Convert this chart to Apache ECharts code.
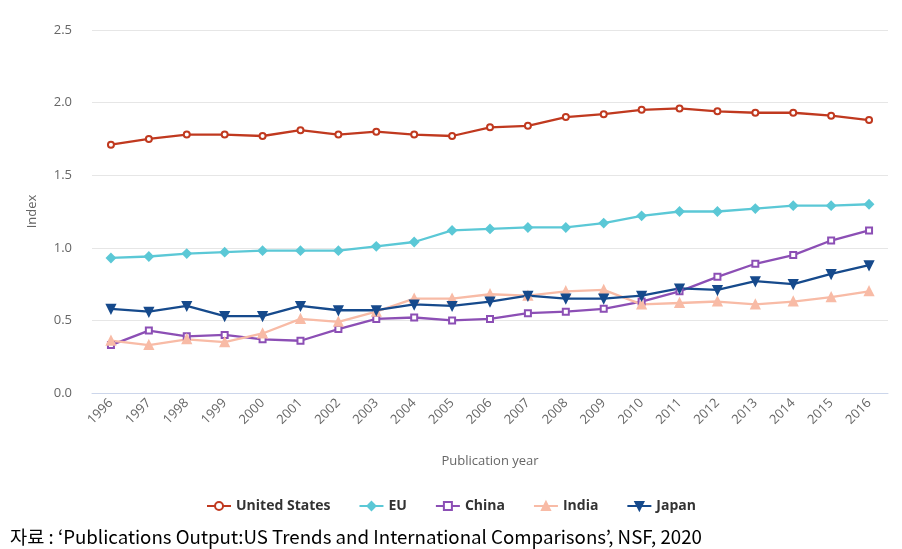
<!DOCTYPE html>
<html><head><meta charset="utf-8">
<script src="https://cdn.jsdelivr.net/npm/echarts@6/dist/echarts.min.js"></script>
<style>html,body{margin:0;padding:0;background:#fff}#c{width:902px;height:549px}</style>
</head><body><div id="c"></div>
<script>
var years = ['1996','1997','1998','1999','2000','2001','2002','2003','2004','2005','2006','2007','2008','2009','2010','2011','2012','2013','2014','2015','2016'];
var usData = [1.71,1.75,1.78,1.78,1.77,1.81,1.78,1.80,1.78,1.77,1.83,1.84,1.90,1.92,1.95,1.96,1.94,1.93,1.93,1.91,1.88];
var euData = [0.93,0.94,0.96,0.97,0.98,0.98,0.98,1.01,1.04,1.12,1.13,1.14,1.14,1.17,1.22,1.25,1.25,1.27,1.29,1.29,1.30];
var chinaData = [0.33,0.43,0.39,0.40,0.37,0.36,0.44,0.51,0.52,0.50,0.51,0.55,0.56,0.58,0.63,0.70,0.80,0.89,0.95,1.05,1.12];
var indiaData = [0.36,0.33,0.37,0.35,0.41,0.51,0.49,0.56,0.65,0.65,0.68,0.67,0.70,0.71,0.61,0.62,0.63,0.61,0.63,0.66,0.70];
var japanData = [0.58,0.56,0.60,0.53,0.53,0.60,0.57,0.57,0.61,0.60,0.63,0.67,0.65,0.65,0.67,0.72,0.71,0.77,0.75,0.82,0.88];
var yTicks = ['0.0','0.5','1.0','1.5','2.0','2.5'];
var sourceText = '자료 : ‘Publications Output:US Trends and International Comparisons’, NSF, 2020';

var chart = echarts.init(document.getElementById('c'));
function mk(name, data, color, symbol, rot, size) {
  return {
    name: name, type: 'line', data: data, symbol: symbol, symbolSize: size,
    symbolRotate: rot || 0, showSymbol: true,
    lineStyle: {color: color, width: 2.3},
    itemStyle: {color: color, borderColor: color, borderWidth: 2},
    emphasis: {disabled: true}
  };
}
chart.setOption({
  animation: false,
  textStyle: {fontFamily: 'Open Sans'},
  grid: {left: 92, right: 14, top: 30, bottom: 156},
  legend: {
    top: 494, left: 'center', itemGap: 28, itemWidth: 24, itemHeight: 10,
    textStyle: {fontFamily: 'Open Sans', fontWeight: 'bold', fontSize: 14, color: '#333'},
    data: ['United States','EU','China','India','Japan']
  },
  xAxis: {
    type: 'category', data: years, boundaryGap: true,
    name: 'Publication year', nameLocation: 'middle', nameGap: 62,
    nameTextStyle: {color: '#666', fontSize: 13},
    axisLine: {lineStyle: {color: '#ccd6eb'}},
    axisTick: {alignWithLabel: true, length: 10, lineStyle: {color: '#ccd6eb'}},
    axisLabel: {rotate: 45, color: '#666', fontSize: 13, margin: 8}
  },
  yAxis: {
    type: 'value', min: 0, max: 2.5, interval: 0.5,
    name: 'Index', nameLocation: 'middle', nameGap: 53,
    nameTextStyle: {color: '#666', fontSize: 13},
    axisLine: {show: false}, axisTick: {show: false},
    axisLabel: {color: '#666', fontSize: 13, margin: 20, formatter: function (v) { return yTicks[Math.round(v / 0.5)]; }},
    splitLine: {lineStyle: {color: '#e6e6e6'}}
  },
  graphic: [{
    type: 'text', left: 10, top: 528,
    style: {text: sourceText, font: '18.7px "Noto Sans CJK KR"', fill: '#000'}
  }],
  series: [
    mk('United States', usData, '#c0391f', 'emptyCircle', 0, 6),
    mk('EU', euData, '#5bc8d6', 'diamond', 0, 8),
    mk('China', chinaData, '#8c4fb5', 'emptyRect', 0, 6),
    mk('India', indiaData, '#f8bba6', 'triangle', 0, 8),
    mk('Japan', japanData, '#164a8c', 'triangle', 180, 8)
  ]
});
</script></body></html>
